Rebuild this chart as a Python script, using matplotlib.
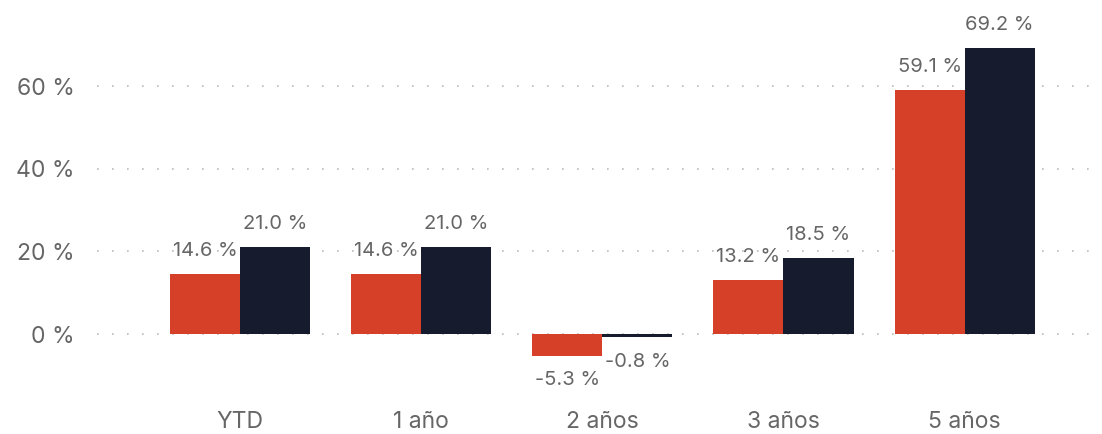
import matplotlib
matplotlib.use("Agg")
import matplotlib.pyplot as plt
import numpy as np

categories = ["YTD", "1 año", "2 años", "3 años", "5 años"]
serie_a = [14.6, 14.6, -5.3, 13.2, 59.1]
serie_b = [21.0, 21.0, -0.8, 18.5, 69.2]
yticks = [0, 20, 40, 60]

plt.rcParams['font.family'] = ['Inter', 'DejaVu Sans']
red = "#D64028"
dark = "#161B2E"
gray = "#666666"

fig = plt.figure(figsize=(11.02, 4.34), dpi=100)
ax = fig.add_axes([97/1102, 44/434, (1095-97)/1102, (424-44)/434])
ax.set_xlim(-0.79, 4.72)
ax.set_ylim(-13.5, 78.4)

x = np.arange(len(categories))
w = 70/181
ax.bar(x - w/2, serie_a, w, color=red, zorder=3)
ax.bar(x + w/2, serie_b, w, color=dark, zorder=3)

for xi, a, b in zip(x, serie_a, serie_b):
    for xx, v in ((xi - w/2, a), (xi + w/2, b)):
        if v >= 0:
            ax.annotate(f"{v:.1f} %", (xx, v), xytext=(0, 10), textcoords="offset points",
                        ha="center", va="bottom", fontsize=14.5, color=gray)
        else:
            ax.annotate(f"{v:.1f} %", (xx, v), xytext=(0, -11), textcoords="offset points",
                        ha="center", va="top", fontsize=14.5, color=gray)

ax.set_yticks(yticks)
ax.set_yticklabels([f"{t} %" for t in yticks])
ax.set_xticks(x)
ax.set_xticklabels(categories)
ax.tick_params(axis="both", length=0, labelsize=16.5, colors=gray)
ax.tick_params(axis="y", pad=16)
ax.tick_params(axis="x", pad=15)
for s in ax.spines.values():
    s.set_visible(False)
ax.grid(axis="y", color="#bbbbbb", linestyle=(0, (1, 8)), linewidth=1.2, zorder=0)
ax.grid(axis="x", visible=False)

fig.savefig("out.png", dpi=100)
